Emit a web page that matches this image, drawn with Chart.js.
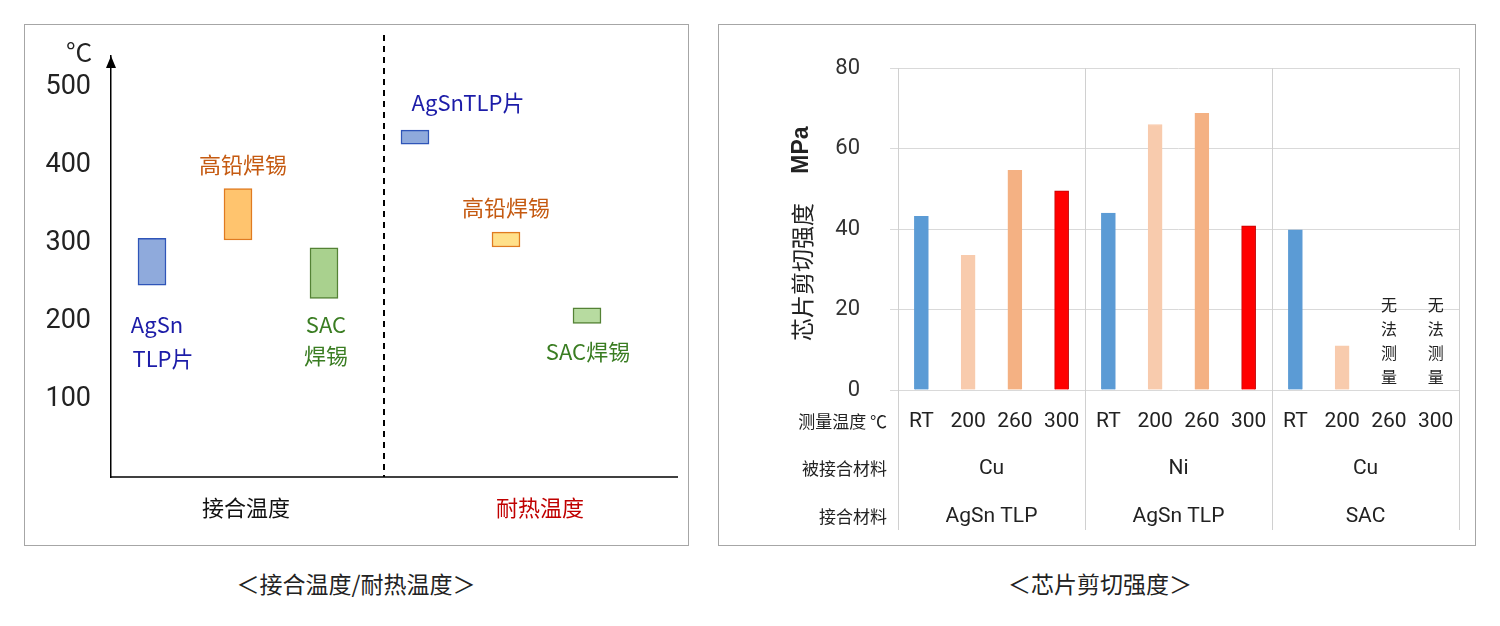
<!DOCTYPE html>
<html><head><meta charset="utf-8">
<script src="https://cdn.jsdelivr.net/npm/chart.js@4.4.0/dist/chart.umd.min.js"></script>
<style>
body{margin:0;background:#fff;width:1500px;height:626px;position:relative;font-family:"Noto Sans CJK SC",sans-serif}
.box{position:absolute;border:1px solid #a6a6a6;box-sizing:border-box}
.cap{position:absolute;top:566px;font-size:23px;color:#222;transform:translateX(-50%);white-space:nowrap}
</style></head><body>
<div class="box" style="left:24px;top:24px;width:665px;height:522px"><canvas id="c1" width="663" height="520"></canvas></div>
<div class="box" style="left:718px;top:24px;width:758px;height:522px"><canvas id="c2" width="756" height="520"></canvas></div>
<div class="cap" style="left:356px">＜接合温度/耐热温度＞</div>
<div class="cap" style="left:1100px">＜芯片剪切强度＞</div>
<script>
// ---- Left chart data ----
const tempMaterials = ["AgSn TLP片","高铅焊锡","SAC焊锡"];
const bondingTempRange = [[246,306],[304,370],[229,294]];
const heatResistRange = [[427,445],[295,314],[197,217]];
const tempTicks = [100,200,300,400,500];
// ---- Right chart data ----
const measureTemps = ["RT","200","260","300","RT","200","260","300","RT","200","260","300"];
const substrates = ["Cu","Ni","Cu"];
const bondMaterials = ["AgSn TLP","AgSn TLP","SAC"];
const shearStrength = [43.2,33.5,54.6,49.5,44.0,66.0,68.8,40.8,39.8,11.0,null,null];
const strengthTicks = [0,20,40,60,80];

const F='"Noto Sans CJK SC",sans-serif';
const slotsL=[41,127,213], slotsR=[304,395,476];
const fillsL=['#8faadc','#ffc46e','#a9d18e'], bordL=['#2f55b8','#e07b20','#548235'];
const fillsR=['#8faadc','#ffe08a','#b7dba0'];
const txtC=['#1c1ca8','#c55a11','#3a7d22'];
new Chart(document.getElementById('c1'),{
 type:'bar',
 data:{datasets:[
  {data:bondingTempRange.map((r,i)=>({x:slotsL[i],y:r})),backgroundColor:fillsL,borderColor:bordL,borderWidth:1.5,borderSkipped:false,barThickness:28},
  {data:heatResistRange.map((r,i)=>({x:slotsR[i],y:r})),backgroundColor:fillsR,borderColor:bordL,borderWidth:1.5,borderSkipped:false,barThickness:28}
 ]},
 options:{responsive:false,animation:false,layout:{padding:{top:31,right:10,bottom:68}},
  datasets:{bar:{grouped:false}},
  plugins:{legend:{display:false},tooltip:{enabled:false}},
  scales:{
   x:{type:'linear',min:0,max:567,offset:false,display:false,grid:{display:false}},
   y:{min:0,max:540,afterFit:s=>{s.width=86},grid:{display:false},border:{display:true,color:'#000',width:1.5},
      afterBuildTicks:s=>{s.ticks=tempTicks.map(v=>({value:v}))},
      ticks:{font:{size:27,family:'Liberation Sans Narrow, Roboto'},color:'#222',padding:12}}
  }},
 plugins:[{id:'l',afterDraw(ch){
  const c=ch.ctx,x=ch.scales.x,y=ch.scales.y,a=ch.chartArea;
  c.save();
  c.strokeStyle='#000';c.lineWidth=1.5;
  c.beginPath();c.moveTo(a.left,y.getPixelForValue(0));c.lineTo(a.right,y.getPixelForValue(0));c.stroke();
  c.fillStyle='#000';c.beginPath();c.moveTo(a.left,a.top);c.lineTo(a.left-5,a.top+12);c.lineTo(a.left+5,a.top+12);c.fill();
  const dx=x.getPixelForValue(273);
  c.setLineDash([6,5]);c.lineWidth=2;c.beginPath();c.moveTo(dx,10);c.lineTo(dx,y.getPixelForValue(0));c.stroke();c.setLineDash([]);
  c.textAlign='center';c.textBaseline='middle';
  c.font='26px '+F;c.fillStyle='#222';c.fillText('°C',54,27);
  c.font='22px '+F;
  const T=(t,px,py,col)=>{c.fillStyle=col;c.fillText(t,px,py)};
  T('AgSn',132,300,txtC[0]);T('TLP片',138,334,txtC[0]);
  T('高铅焊锡',218,140,txtC[1]);
  T('SAC',301,300,txtC[2]);T('焊锡',301,331,txtC[2]);
  T('AgSnTLP片',443,78,txtC[0]);
  T('高铅焊锡',481,183,txtC[1]);
  T('SAC焊锡',563,327,txtC[2]);
  T('接合温度',221,483,'#111');T('耐热温度',515,483,'#c00000');
  c.restore();
 }}]
});
const cols=['#5b9bd5','#f8cbad','#f4b183','#ff0000'];
new Chart(document.getElementById('c2'),{
 type:'bar',
 data:{labels:measureTemps,datasets:[{data:shearStrength,backgroundColor:measureTemps.map((_,i)=>cols[i%4]),
   borderColor:measureTemps.map((_,i)=>i%4==3?'#c00000':cols[i%4]),borderWidth:1,barThickness:14}]},
 options:{responsive:false,animation:false,layout:{padding:{top:0,right:16,bottom:155}},
  plugins:{legend:{display:false},tooltip:{enabled:false}},
  scales:{
   x:{display:false,grid:{display:false}},
   y:{min:0,max:80,afterFit:s=>{s.width=179},border:{display:false},grid:{color:'#d9d9d9'},
      afterBuildTicks:s=>{s.ticks=strengthTicks.map(v=>({value:v}))},
      ticks:{font:{size:22,family:'Liberation Sans Narrow, Roboto'},color:'#333',padding:30}}
  }},
 plugins:[{id:'r',afterDraw(ch){
  const c=ch.ctx,x=ch.scales.x,y=ch.scales.y,a=ch.chartArea;
  c.save();
  const px=i=>x.getPixelForValue(i);
  c.strokeStyle='#d0d0d0';c.lineWidth=1;
  [-0.5,3.5,7.5,11.5].forEach(v=>{const xx=Math.round(v<0?a.left:v>11?a.right:(px(Math.floor(v))+px(Math.ceil(v)))/2)+0.5;c.beginPath();c.moveTo(xx,a.top);c.lineTo(xx,505);c.stroke();});
  c.textAlign='center';c.textBaseline='middle';c.fillStyle='#222';
  c.font='21px "Liberation Sans Narrow", Roboto';
  measureTemps.forEach((t,i)=>c.fillText(t,px(i),397));
  c.font='21px Roboto, "Noto Sans"';
  substrates.forEach((t,g)=>c.fillText(t,(px(g*4)+px(g*4+3))/2,444));
  bondMaterials.forEach((t,g)=>c.fillText(t,(px(g*4)+px(g*4+3))/2,492));
  c.textAlign='right';c.font='17px '+F;
  c.fillText('测量温度 ℃',168,397);c.fillText('被接合材料',168,444);c.fillText('接合材料',168,492);
  c.textAlign='center';c.font='16px '+F;
  [10,11].forEach(i=>['无','法','测','量'].forEach((ch2,k)=>c.fillText(ch2,px(i),280+k*24)));
  c.translate(83,205);c.rotate(-Math.PI/2);
  c.font='23px '+F;c.fillText('芯片剪切强度',-42,0);
  c.font='bold 23px "Liberation Sans"';c.fillText('MPa',80,0);
  c.restore();
 }}]
});
</script></body></html>
